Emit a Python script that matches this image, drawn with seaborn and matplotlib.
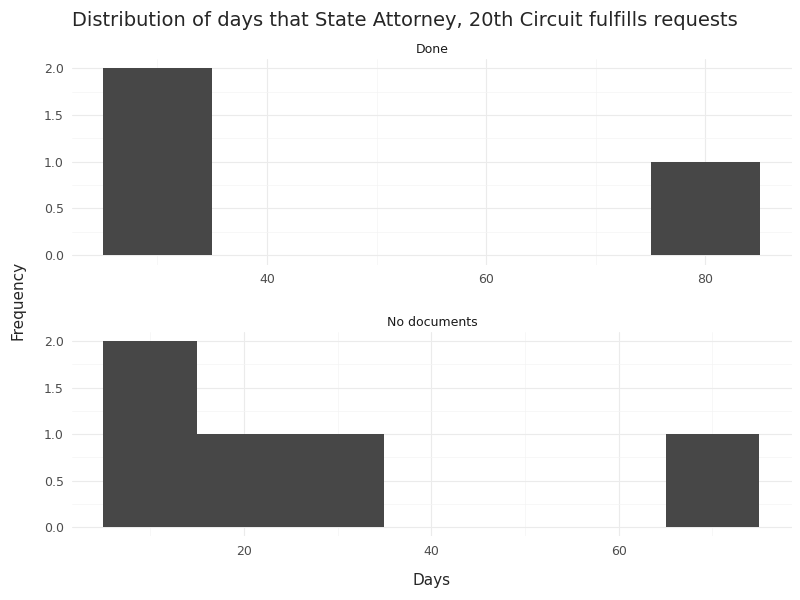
import numpy as np
import seaborn as sns
import matplotlib.pyplot as plt
from matplotlib.ticker import FormatStrFormatter, MultipleLocator

sns.set_theme(style="white")
plt.rcParams['font.family'] = ['DejaVu Sans']

done_days = [28, 32, 80]
nodoc_days = [8, 12, 20, 30, 70]

fig = plt.figure(figsize=(8, 6), dpi=100)

panels = [
    ("Done", done_days, (5, 85), (22.2, 87.9), [40, 60, 80], [0.09, 0.559, 0.9, 0.343]),
    ("No documents", nodoc_days, (5, 75), (1.65, 78.5), [20, 40, 60], [0.09, 0.106, 0.9, 0.341]),
]

for name, vals, brange, xlim, xticks, rect in panels:
    ax = fig.add_axes(rect)
    sns.histplot(x=vals, binwidth=10, binrange=brange, ax=ax,
                 color="#474747", alpha=1, edgecolor="none", linewidth=0)
    ax.set_xlim(*xlim)
    ax.set_ylim(-0.1, 2.1)
    ax.set_xticks(xticks)
    ax.xaxis.set_minor_locator(MultipleLocator(10))
    ax.set_yticks([0, 0.5, 1.0, 1.5, 2.0])
    ax.yaxis.set_minor_locator(MultipleLocator(0.25))
    ax.yaxis.set_major_formatter(FormatStrFormatter('%.1f'))
    ax.grid(True, which='major', color='#ebebeb', linewidth=0.8)
    ax.grid(True, which='minor', color='#f4f4f4', linewidth=0.5)
    ax.set_axisbelow(True)
    for s in ax.spines.values():
        s.set_visible(False)
    ax.tick_params(axis='both', length=0, labelsize=9, labelcolor='#4d4d4d', pad=6)
    ax.set_xlabel("")
    ax.set_ylabel("")
    ax.set_title(name, fontsize=9, color='#1a1a1a', pad=4)

fig.text(0.09, 0.965, "Distribution of days that State Attorney, 20th Circuit fulfills requests",
         fontsize=14, ha='left', va='center')
fig.text(0.022, 0.5, "Frequency", rotation=90, fontsize=11, ha='center', va='center')
fig.text(0.54, 0.033, "Days", fontsize=11, ha='center', va='center')

fig.savefig("out.png", dpi=100)
